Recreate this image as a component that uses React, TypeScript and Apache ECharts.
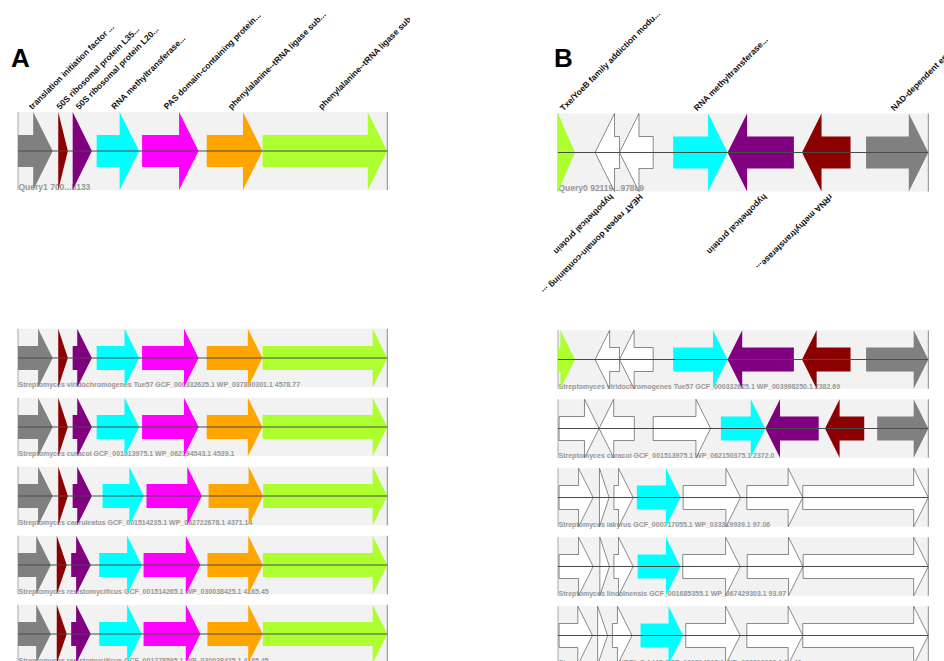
import React, { useEffect, useRef } from "react";
import * as echarts from "echarts";

// ---------- colour keys ----------
const PALETTE: Record<string, string> = {
  gray: "#808080",
  darkred: "#8b0000",
  purple: "#800080",
  cyan: "#00ffff",
  magenta: "#ff00ff",
  orange: "#ffa500",
  green: "#adff2f",
  white: "#ffffff",
};

// ---------- Panel A (positions in % of the displayed window) ----------
const aTrackLabels = [
  "Query1 700...8133",
  "Streptomyces viridochromogenes Tue57 GCF_000332625.1 WP_037890301.1 4578.77",
  "Streptomyces curacoi GCF_001513975.1 WP_062194543.1 4539.1",
  "Streptomyces caeruleatus GCF_001514235.1 WP_062722678.1 4371.14",
  "Streptomyces resistomycificus GCF_001514265.1 WP_030038425.1 4165.45",
  "Streptomyces resistomycificus GCF_001278595.1 WP_030038425.1 4165.45",
];
const aGeneNames = [
  "translation initiation factor ...",
  "50S ribosomal protein L35...",
  "50S ribosomal protein L20...",
  "RNA methyltransferase...",
  "PAS domain-containing protein...",
  "phenylalanine--tRNA ligase sub...",
  "phenylalanine--tRNA ligase sub...",
];
const aGeneColors = ["gray", "darkred", "purple", "cyan", "magenta", "orange", "green"];
const aGeneStrands = [1, 1, 1, 1, 1, 1, 1];
const aStarts = [
  [0, 10.9, 14.8, 21.3, 33.6, 51.1, 66.2],
  [0, 10.9, 14.8, 21.3, 33.6, 51.1, 66.2],
  [0, 10.9, 14.8, 21.3, 33.6, 51.1, 66.2],
  [0, 10.9, 14.8, 22.9, 34.8, 51.6, 66.4],
  [0, 10.5, 14.4, 22.0, 34.0, 51.3, 66.3],
  [0, 10.5, 14.4, 22.0, 34.0, 51.3, 66.3],
];
const aEnds = [
  [9.4, 13.5, 20.0, 32.8, 48.9, 66.2, 100],
  [9.4, 13.5, 20.0, 32.8, 48.9, 66.2, 100],
  [9.4, 13.5, 20.0, 32.8, 48.9, 66.2, 100],
  [9.4, 13.5, 20.0, 34.1, 49.8, 66.4, 100],
  [8.9, 13.2, 19.7, 33.5, 49.4, 66.3, 100],
  [8.9, 13.2, 19.7, 33.5, 49.4, 66.3, 100],
];

// ---------- Panel B ----------
const bTrackLabels = [
  "Query0 92119...97889",
  "Streptomyces viridochromogenes Tue57 GCF_000332625.1 WP_003998250.1 2382.69",
  "Streptomyces curacoi GCF_001513975.1 WP_062150375.1 2372.0",
  "Streptomyces iakyrus GCF_000717055.1 WP_033319939.1 97.06",
  "Streptomyces lincolnensis GCF_001685355.1 WP_067429303.1 93.97",
  "Streptomyces sp. NRRL S-1448 GCF_001514015.1 WP_033319939.1 91.40",
];
const bGeneNames = [
  "Txe/YoeB family addiction modu...",
  "hypothetical protein",
  "HEAT repeat domain-containing ...",
  "RNA methyltransferase...",
  "hypothetical protein",
  "rRNA methyltransferase...",
  "NAD-dependent epimerase/dehydra...",
];
const bColors = [
  ["green", "white", "white", "cyan", "purple", "darkred", "gray"],
  ["green", "white", "white", "cyan", "purple", "darkred", "gray"],
  ["white", "white", "white", "cyan", "purple", "darkred", "gray"],
  ["white", "white", "white", "cyan", "white", "white", "white"],
  ["white", "white", "white", "cyan", "white", "white", "white"],
  ["white", "white", "white", "cyan", "white", "white", "white"],
];
const bStrands = [
  [1, -1, -1, 1, -1, -1, 1],
  [1, -1, -1, 1, -1, -1, 1],
  [1, -1, 1, 1, -1, -1, 1],
  [1, 1, 1, 1, 1, 1, 1],
  [1, 1, 1, 1, 1, 1, 1],
  [1, 1, 1, 1, 1, 1, 1],
];
const bStarts = [
  [0, 10.0, 16.6, 31.1, 45.8, 65.9, 83.2],
  [0, 10.0, 16.6, 31.1, 45.8, 65.9, 83.2],
  [0.3, 11.1, 25.7, 44.0, 56.0, 72.1, 86.2],
  [0.3, 11.2, 15.1, 21.3, 33.8, 51.0, 66.1],
  [0.3, 11.3, 15.1, 21.5, 33.7, 51.1, 66.2],
  [0.3, 10.7, 14.7, 22.3, 34.5, 51.0, 66.1],
];
const bEnds = [
  [4.6, 16.6, 25.7, 45.8, 63.7, 79.0, 100],
  [4.6, 16.6, 25.7, 45.8, 63.7, 79.0, 100],
  [11.1, 20.6, 41.2, 56.0, 70.4, 82.7, 100],
  [9.5, 13.8, 20.3, 33.1, 49.3, 66.1, 100],
  [9.5, 13.9, 20.3, 33.1, 49.2, 66.2, 100],
  [9.3, 13.4, 20.0, 33.8, 49.2, 66.1, 100],
];

// ---------- drawing helpers ----------
const FONT = "'Liberation Sans', Arial, Helvetica, sans-serif";
const slotOf = (t: number) => (t === 0 ? 0 : t + 2);
const scaleOf = (t: number) => (t === 0 ? 1 : 0.75);
const TRACK_H = 78;
const BODY_H = 32;
const HEAD_L = 19.5;

function makePanel(
  gi: number,
  trackLabels: string[],
  starts: number[][],
  ends: number[][],
  strandOf: (t: number, g: number) => number,
  colorOf: (t: number, g: number) => string,
  names: string[]
) {
  const trackData = trackLabels.map((_, t) => [slotOf(t), t]);
  const geneData: number[][] = [];
  starts.forEach((row, t) =>
    row.forEach((s, g) => geneData.push([slotOf(t), s, ends[t][g], strandOf(t, g), t, g]))
  );

  const trackSeries = {
    type: "custom",
    xAxisIndex: gi,
    yAxisIndex: gi,
    z: 1,
    clip: false,
    silent: true,
    data: trackData,
    renderItem: (_p: any, api: any) => {
      const slot = api.value(0);
      const t = api.value(1);
      const h = TRACK_H * scaleOf(t);
      const [x0, cy] = api.coord([0, slot]);
      const [x1] = api.coord([100, slot]);
      return {
        type: "group",
        children: [
          { type: "rect", shape: { x: x0, y: cy - h / 2, width: x1 - x0, height: h }, style: { fill: "#f2f2f2" } },
          { type: "line", shape: { x1: x0, y1: cy - h / 2, x2: x0, y2: cy + h / 2 }, style: { stroke: "#a8a8a8", lineWidth: 1 } },
          { type: "line", shape: { x1: x1, y1: cy - h / 2, x2: x1, y2: cy + h / 2 }, style: { stroke: "#8a8a8a", lineWidth: 1 } },
          {
            type: "text",
            x: x0 + 0.5,
            y: cy + h / 2 + 1,
            style: {
              text: trackLabels[t],
              fill: "#999999",
              font: `bold ${t === 0 ? 8.5 : 7}px ${FONT}`,
              align: "left",
              verticalAlign: "bottom",
            },
          },
        ],
      };
    },
  };

  const geneSeries = {
    type: "custom",
    xAxisIndex: gi,
    yAxisIndex: gi,
    z: 2,
    clip: false,
    silent: true,
    data: geneData,
    renderItem: (_p: any, api: any) => {
      const slot = api.value(0);
      const st = api.value(1);
      const en = api.value(2);
      const strand = api.value(3);
      const t = api.value(4);
      const g = api.value(5);
      const s = scaleOf(t);
      const hh = TRACK_H * s;
      const bh = BODY_H * s;
      const [xa, cy] = api.coord([st, slot]);
      const [xb] = api.coord([en, slot]);
      const len = xb - xa;
      const head = Math.min(HEAD_L * s, len);
      let pts: number[][];
      if (strand > 0) {
        const hb = xb - head;
        pts =
          head >= len
            ? [[xa, cy - hh / 2], [xb, cy], [xa, cy + hh / 2]]
            : [[xa, cy - bh / 2], [hb, cy - bh / 2], [hb, cy - hh / 2], [xb, cy], [hb, cy + hh / 2], [hb, cy + bh / 2], [xa, cy + bh / 2]];
      } else {
        const hb = xa + head;
        pts =
          head >= len
            ? [[xb, cy - hh / 2], [xa, cy], [xb, cy + hh / 2]]
            : [[xb, cy - bh / 2], [hb, cy - bh / 2], [hb, cy - hh / 2], [xa, cy], [hb, cy + hh / 2], [hb, cy + bh / 2], [xb, cy + bh / 2]];
      }
      const key = colorOf(t, g);
      const style: any = { fill: PALETTE[key] };
      if (key === "white") {
        style.stroke = "#5a5a5a";
        style.lineWidth = 0.7;
      }
      const children: any[] = [{ type: "polygon", shape: { points: pts }, style }];
      if (t === 0 && names[g]) {
        const cx = (xa + xb) / 2;
        const up = strand > 0;
        children.push({
          type: "text",
          x: up ? cx - 2 : cx + 2,
          y: up ? cy - hh / 2 - 1 : cy + hh / 2 + 1,
          rotation: up ? Math.PI / 4 : Math.PI / 4 + Math.PI,
          style: {
            text: names[g],
            fill: "#111111",
            font: `bold 8.5px ${FONT}`,
            align: "left",
            verticalAlign: "bottom",
          },
        });
      }
      return { type: "group", children };
    },
  };

  const lineSeries = {
    type: "custom",
    xAxisIndex: gi,
    yAxisIndex: gi,
    z: 3,
    clip: false,
    silent: true,
    data: trackData,
    renderItem: (_p: any, api: any) => {
      const slot = api.value(0);
      const [x0, cy] = api.coord([0, slot]);
      const [x1] = api.coord([100, slot]);
      return { type: "line", shape: { x1: x0, y1: cy, x2: x1, y2: cy }, style: { stroke: "#4a4a4a", lineWidth: 1 } };
    },
  };

  return [trackSeries, geneSeries, lineSeries];
}

export default function App() {
  const ref = useRef<HTMLDivElement>(null);
  useEffect(() => {
    if (!ref.current) return;
    const chart = echarts.init(ref.current, null, { renderer: "svg" });
    const seriesA = makePanel(
      0,
      aTrackLabels,
      aStarts,
      aEnds,
      (_t, g) => aGeneStrands[g],
      (_t, g) => aGeneColors[g],
      aGeneNames
    );
    const seriesB = makePanel(
      1,
      bTrackLabels,
      bStarts,
      bEnds,
      (t, g) => bStrands[t][g],
      (t, g) => bColors[t][g],
      bGeneNames
    );
    // 7 slots of 69px each: slots 0..6 inside the grid, slot 7 extrapolated
    const axisX = (gi: number) => ({ gridIndex: gi, type: "value", min: 0, max: 100, show: false });
    const axisY = (gi: number) => ({ gridIndex: gi, type: "value", min: -0.5, max: 6.5, inverse: true, show: false });
    chart.setOption({
      animation: false,
      backgroundColor: "#ffffff",
      grid: [
        { left: 18, top: 116.5, width: 369.3, height: 483 },
        { left: 558, top: 118, width: 370.3, height: 483 },
      ],
      xAxis: [axisX(0), axisX(1)],
      yAxis: [axisY(0), axisY(1)],
      graphic: [
        { type: "rect", z: 100, shape: { x: 410, y: 0, width: 135, height: 100 }, style: { fill: "#ffffff" } },
        { type: "text", z: 101, x: 11, y: 45, style: { text: "A", font: `bold 26px ${FONT}`, fill: "#000", verticalAlign: "top" } },
        { type: "text", z: 101, x: 554, y: 45, style: { text: "B", font: `bold 26px ${FONT}`, fill: "#000", verticalAlign: "top" } },
      ],
      series: [...seriesA, ...seriesB],
    });
    return () => chart.dispose();
  }, []);
  return <div ref={ref} style={{ position: "fixed", left: 0, top: 0, width: 944, height: 661 }} />;
}
